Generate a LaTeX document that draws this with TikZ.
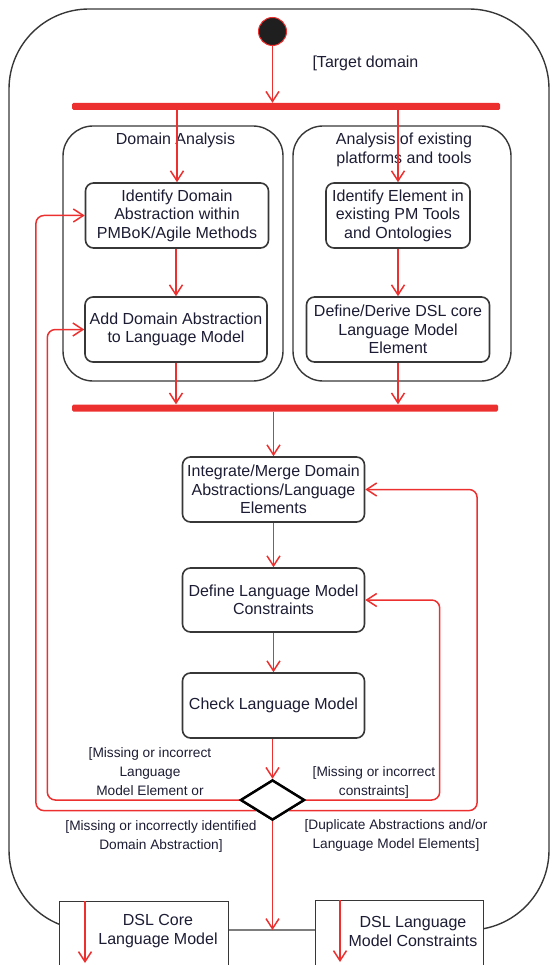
\documentclass[tikz,border=0pt]{standalone}
\usepackage{fontspec}
\setmainfont{Liberation Sans}
\usetikzlibrary{arrows.meta,positioning,shapes.geometric}
\definecolor{umlred}{RGB}{236,48,48}
\definecolor{umlink}{RGB}{28,28,52}
\definecolor{umlgray}{RGB}{55,55,55}
\tikzset{
  flow/.style={draw=umlred, line width=1.5pt, -{Straight Barb[length=10pt,width=13pt]}},
  backflow/.style={flow, rounded corners=8pt},
  action/.style={draw=umlgray, line width=1.6pt, rounded corners=8pt, fill=white, align=center,
    text=umlink, font=\fontsize{16}{18.5}\selectfont, inner sep=0pt, minimum height=65pt},
  region/.style={draw=umlgray, line width=1.4pt, rounded corners=30pt, inner sep=0pt},
  regiontitle/.style={align=center, text=umlink, font=\fontsize{16}{19}\selectfont},
  bar/.style={fill=umlred, inner sep=0pt, minimum height=7pt, rounded corners=1.5pt},
  guard/.style={align=center, text=umlink, font=\fontsize{13.7}{19}\selectfont},
  objbox/.style={draw=umlgray, line width=1.4pt, fill=white, inner sep=0pt, anchor=north west},
  objtext/.style={align=center, text=umlink, font=\fontsize{16}{19}\selectfont},
}
\begin{document}
\begin{tikzpicture}[x=1pt,y=-1pt]
  \clip (0,0) rectangle (552,965);
  % activity frame
  \node[draw=umlgray, line width=1.4pt, rounded corners=80pt, minimum width=540pt, minimum height=921pt, inner sep=0pt] (activity) at (279,469.5) {};
  \coordinate (bottomedge) at (273,930);
  % start and fork
  \node[circle, fill=black!88, draw=umlred, line width=1pt, minimum size=28pt, inner sep=0pt] (start) at (272.5,31.5) {};
  \node[regiontitle, anchor=west] (target) at (309,63) {[Target domain};
  \node[bar, minimum width=428pt] (fork) at (286,106.5) {};
  % regions
  \node[region, minimum width=220pt, minimum height=255pt] (grpdomain) at (173,253.5) {};
  \node[region, minimum width=218pt, minimum height=255pt] (grptools) at (402,253.5) {};
  \node[regiontitle] (tdomain) at (175.5,140) {Domain Analysis};
  \node[regiontitle] (ttools) at (404,149.5) {Analysis of existing\\platforms and tools};
  % actions
  \node[action, minimum width=183pt] (ida) at (177,215.5) {Identify Domain\\Abstraction within\\PMBoK/Agile Methods};
  \node[action, minimum width=182pt] (ada) at (176,329.5) {Add Domain Abstraction\\to Language Model};
  \node[action, minimum width=144pt] (iel) at (398,215.5) {Identify Element in\\existing PM Tools\\and Ontologies};
  \node[action, minimum width=183pt] (dde) at (398,329.5) {Define/Derive DSL core\\Language Model\\Element};
  \node[bar, minimum width=426pt] (join) at (285,408) {};
  \node[action, minimum width=182pt] (img) at (273.5,489.5) {Integrate/Merge Domain\\Abstractions/Language\\Elements};
  \node[action, minimum width=182pt, minimum height=64pt] (dlc) at (273.5,600) {Define Language Model\\Constraints};
  \node[action, minimum width=182pt] (chk) at (273.5,705.5) {Check Language Model};
  % flows
  \draw[flow] (start) -- (start |- fork.north);
  \draw[flow] (fork.south -| ida.north) -- (ida.north);
  \draw[flow] (ada.north |- ida.south) -- (ada.north);
  \draw[flow] (ada.south) -- (ada.south |- join.north);
  \draw[flow] (fork.south -| iel.north) -- (iel.north);
  \draw[flow] (iel.south) -- (dde.north);
  \draw[flow] (dde.south) -- (dde.south |- join.north);
  \draw[flow] (join.south -| img.north) -- (img.north);
  \draw[flow] (img.south) -- (dlc.north);
  \draw[flow] (dlc.south) -- (chk.north);
  % decision
  \coordinate (decpos) at (272.5,800);
  \draw[flow] (decpos |- chk.south) -- ++(0,40);
  \node[diamond, draw=black, line width=2.4pt, fill=white, minimum width=64pt, minimum height=40pt, inner sep=0pt] (dec) at (decpos) {};
  \draw[backflow] (dec.west) -- ++(-192,0) |- (ada.west);
  \draw[backflow] (dec.south west) -- ++(-220,0) |- (ida.west);
  \draw[backflow] (dec.east) -- ++(134,0) |- (dlc.east);
  \draw[backflow] (dec.south east) -- ++(188,0) |- (img.east);
  \node[diamond, draw=black, line width=2.4pt, fill=white, minimum width=64pt, minimum height=40pt, inner sep=0pt] at (decpos) {};
  \draw[flow] (dec.south) -- (dec.south |- bottomedge);
  % guards
  \node[guard] (gelem) at (150,772) {[Missing or incorrect\\Language\\Model Element or};
  \node[guard] (gcons) at (374,782.5) {[Missing or incorrect\\constraints]};
  \node[guard] (gabs) at (161,836.5) {[Missing or incorrectly identified\\Domain Abstraction]};
  \node[guard] (gdup) at (396,835.5) {[Duplicate Abstractions and/or\\Language Model Elements]};
  % output objects
  \node[objbox, minimum width=169pt, minimum height=100pt] (core) at (59,901) {};
  \node[objtext] (coretxt) at (158,931.5) {DSL Core\\Language Model};
  \draw[flow] ([xshift=26pt]core.north west) -- ++(0,62);
  \node[objbox, minimum width=168pt, minimum height=100pt] (cons) at (315,900) {};
  \node[objtext] (constxt) at (413,931.5) {DSL Language\\Model Constraints};
  \draw[flow] ([xshift=25pt]cons.north west) -- ++(0,62);
\end{tikzpicture}
\end{document}
